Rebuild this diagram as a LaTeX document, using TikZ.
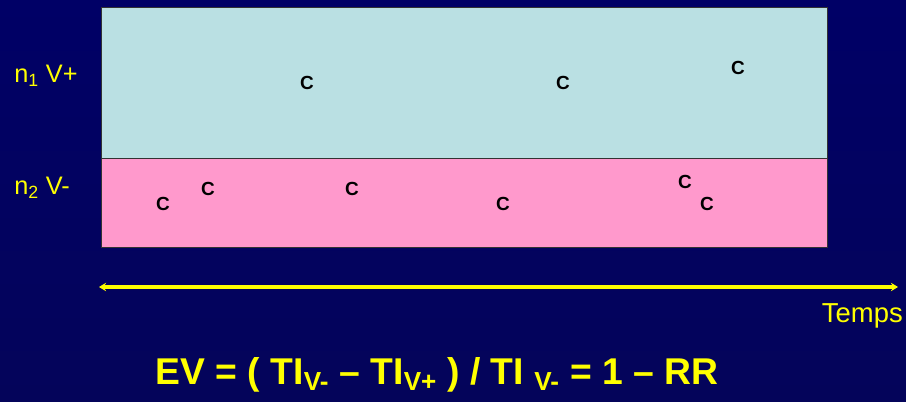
\documentclass[tikz,border=0pt]{standalone}
\usepackage{fontspec}
\setmainfont{Liberation Sans}
\usepackage{xcolor}
\usetikzlibrary{positioning, calc, arrows.meta}
\definecolor{navy}{HTML}{000066}
\definecolor{deepblue}{HTML}{04045A}
\definecolor{paleblue}{HTML}{BAE0E3}
\definecolor{rosepink}{HTML}{FF99CC}
\definecolor{signyellow}{HTML}{FFFF00}
\tikzset{
  band/.style={draw=black!80, line width=0.6pt, rectangle, inner sep=0pt, outer sep=0pt, minimum width=18.125cm},
  case/.style={font=\fontsize{13.5}{14}\selectfont\bfseries, text=black, inner sep=0pt},
  grouplabel/.style={font=\fontsize{18}{20}\selectfont, text=signyellow, anchor=west, inner sep=0pt},
}
\begin{document}
\begin{tikzpicture}[x=0.025cm, y=-0.025cm]
% background
\shade[top color=navy, bottom color=deepblue] (0,0) rectangle (906,401);
\useasboundingbox (0,0) rectangle (906,401);

% Groups
\node[band, fill=paleblue, minimum height=3.775cm] (exposed) at (464.5,82.5) {};
\node[band, fill=rosepink, minimum height=2.225cm] (unexposed) at (464.5,202.5) {};
\node[grouplabel] (n1) at (14,76) {n\textsubscript{1} V+};
\node[grouplabel] (n2) at (14,188) {n\textsubscript{2} V-};

% Cases
\node[case] (c1) at (307,83) {C};
\node[case] (c2) at (563,83) {C};
\node[case] (c3) at (738,68) {C};
\node[case] (c4) at (163,204) {C};
\node[case] (c5) at (208,189) {C};
\node[case] (c6) at (352,189) {C};
\node[case] (c7) at (503,204) {C};
\node[case] (c8) at (685,182) {C};
\node[case] (c9) at (707,204) {C};

% Time axis
\coordinate (tstart) at (99,287);
\coordinate (tend) at (898,287);
\draw[{Stealth[length=5pt,width=6pt]}-{Stealth[length=5pt,width=6pt]}, signyellow, line width=2.2pt] (tstart) -- (tend);
\node[font=\fontsize{19.5}{21}\selectfont, text=signyellow, anchor=east, inner sep=0pt] (temps) at (903,316) {Temps};

% Formula
\node[font=\fontsize{26.5}{28}\selectfont\bfseries, text=signyellow, inner sep=0pt] (formula) at (437,375)
  {EV = ( TI\textsubscript{V-} – TI\textsubscript{V+} ) / TI \textsubscript{V-} = 1 – RR};
\end{tikzpicture}
\end{document}
